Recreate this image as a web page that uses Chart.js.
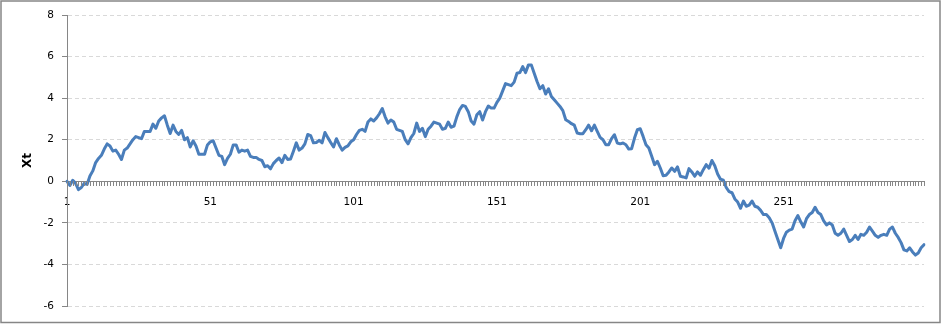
<!DOCTYPE html>
<html>
<head>
<meta charset="utf-8">
<script src="https://cdn.jsdelivr.net/npm/chart.js@4/dist/chart.umd.min.js"></script>
<style>
  html, body { margin: 0; padding: 0; background: #ffffff; }
  canvas { display: block; }
</style>
</head>
<body>
<canvas id="c" width="941" height="324"></canvas>
<script>
// ---- data ----
const xt = [
  0, -0.2, 0.05, -0.1, -0.4, -0.3, -0.1, -0.15, 0.25, 0.5,
  0.9, 1.1, 1.25, 1.55, 1.8, 1.7, 1.45, 1.5, 1.3, 1.05,
  1.5, 1.6, 1.8, 2.0, 2.15, 2.1, 2.05, 2.4, 2.4, 2.4,
  2.75, 2.55, 2.9, 3.05, 3.15, 2.7, 2.3, 2.7, 2.4, 2.25,
  2.45, 2.0, 2.1, 1.65, 1.95, 1.7, 1.3, 1.3, 1.3, 1.75,
  1.9, 1.95, 1.6, 1.25, 1.2, 0.8, 1.1, 1.3, 1.75, 1.75,
  1.4, 1.5, 1.45, 1.5, 1.2, 1.15, 1.15, 1.05, 1.0, 0.7,
  0.75, 0.6, 0.85, 1.0,
  1.12, 0.9, 1.25, 1.05, 1.07, 1.45, 1.85, 1.5, 1.6, 1.8,
  2.25, 2.2, 1.85, 1.87, 1.97, 1.85, 2.35, 2.1, 1.87, 1.65,
  2.05, 1.75, 1.5, 1.63, 1.7, 1.9, 2.0, 2.25, 2.45, 2.5,
  2.4, 2.85, 3.0, 2.9, 3.05, 3.25, 3.5, 3.1, 2.8, 2.95,
  2.85, 2.5, 2.45, 2.4, 2.0, 1.8, 2.1, 2.3, 2.8, 2.4,
  2.55, 2.15, 2.5, 2.65, 2.85, 2.8, 2.75, 2.5, 2.55, 2.85,
  2.6, 2.65, 3.1, 3.45, 3.65, 3.6, 3.35, 2.9, 2.75, 3.2,
  3.35, 2.95, 3.35, 3.62,
  3.52, 3.52, 3.8, 4.0, 4.35, 4.7, 4.65, 4.6, 4.77, 5.2,
  5.23, 5.52, 5.23, 5.6, 5.6, 5.2, 4.8, 4.45, 4.6, 4.2,
  4.45, 4.08, 3.92, 3.76, 3.6, 3.4, 2.96, 2.88, 2.77, 2.7,
  2.32, 2.29, 2.29, 2.48, 2.7, 2.43, 2.7, 2.4, 2.11, 2.0,
  1.76, 1.76, 2.05, 2.24, 1.84, 1.8, 1.84, 1.76, 1.55, 1.57,
  2.08, 2.48, 2.53, 2.16, 1.76, 1.6, 1.2, 0.8, 0.96, 0.64,
  0.27, 0.29, 0.45, 0.64, 0.48, 0.69, 0.24, 0.21, 0.16, 0.61,
  0.45, 0.24, 0.45, 0.29, 0.56, 0.8,
  0.63, 1.0, 0.75, 0.35, 0.1, 0.05, -0.3, -0.5, -0.55, -0.85,
  -1.0, -1.3, -0.95, -1.2, -1.15, -0.95, -1.2, -1.25, -1.4, -1.6,
  -1.6, -1.75, -2.0, -2.4, -2.8, -3.2, -2.75, -2.45, -2.35, -2.3,
  -1.9, -1.65, -1.95, -2.2, -1.8, -1.6, -1.5, -1.25, -1.5, -1.6,
  -1.9, -2.1, -2.0, -2.1, -2.5, -2.6, -2.5, -2.3, -2.6, -2.9,
  -2.8, -2.6, -2.8, -2.55, -2.6, -2.45, -2.2, -2.4, -2.6, -2.7,
  -2.6, -2.55, -2.6, -2.3, -2.2, -2.5, -2.7, -2.95, -3.3, -3.35,
  -3.2, -3.4, -3.55, -3.45, -3.2, -3.05
];
const categories = xt.map((_, i) => String(i + 1));
const xTickLabels = ['1', '51', '101', '151', '201', '251'];
const yMin = -6, yMax = 8, yStep = 2;
const yTitle = 'Xt';

Chart.defaults.font.family = "'DejaVu Sans', sans-serif";
Chart.defaults.font.size = 10;
Chart.defaults.color = '#000000';

const frame = {
  id: 'frame',
  beforeDraw(chart) {
    const c = chart.ctx;
    c.save();
    c.fillStyle = '#ffffff';
    c.fillRect(0, 0, chart.width, chart.height);
    c.restore();
  },
  afterDraw(chart) {
    const c = chart.ctx;
    const xs = chart.scales.x, ys = chart.scales.y;
    const y0 = Math.round(ys.getPixelForValue(0));
    c.save();
    // category tick marks below the axis line
    c.strokeStyle = '#868686';
    c.lineWidth = 1;
    c.beginPath();
    for (let i = 0; i < xs.ticks.length; i++) {
      const px = Math.round(xs.getPixelForTick(i)) + 0.5;
      c.moveTo(px, y0);
      c.lineTo(px, y0 + 5);
    }
    c.stroke();
    // outer frame
    c.strokeStyle = '#868686';
    c.lineWidth = 1.5;
    c.strokeRect(1, 1, chart.width - 2, chart.height - 2.5);
    c.restore();
  }
};

new Chart(document.getElementById('c'), {
  type: 'line',
  data: {
    labels: categories,
    datasets: [{
      data: xt,
      borderColor: '#4A7EBB',
      borderWidth: 3,
      borderJoinStyle: 'round',
      borderCapStyle: 'round',
      pointRadius: 0,
      pointHoverRadius: 0,
      tension: 0,
      fill: false
    }]
  },
  options: {
    responsive: false,
    animation: false,
    events: [],
    layout: { padding: { left: 0, right: 17, top: 15, bottom: 18 } },
    plugins: { legend: { display: false }, tooltip: { enabled: false } },
    scales: {
      x: {
        type: 'category',
        position: { y: 0 },
        offset: false,
        grid: {
          drawOnChartArea: false,
          drawTicks: false
        },
        border: { display: true, color: '#868686', width: 1 },
        ticks: {
          autoSkip: false,
          maxRotation: 0,
          minRotation: 0,
          padding: 15,
          font: { size: 10.5 },
          callback: function (val, idx) {
            const lab = categories[idx];
            return xTickLabels.includes(lab) ? lab : '';
          }
        }
      },
      y: {
        min: yMin,
        max: yMax,
        afterFit(scale) { scale.width = 67; },
        ticks: { stepSize: yStep, padding: 8, font: { size: 10.5 } },
        grid: {
          color: (ctx) => (ctx.tick && ctx.tick.value === 0) ? 'rgba(0,0,0,0)' : '#d9d9d9',
          lineWidth: 1,
          tickLength: 5,
          tickColor: '#868686'
        },
        border: { display: true, color: '#868686', width: 1, dash: [4, 3] },
        title: {
          display: true,
          text: yTitle,
          font: { size: 12, weight: 'bold' },
          padding: { top: 21, bottom: 0 }
        }
      }
    }
  },
  plugins: [frame]
});
</script>
</body>
</html>
